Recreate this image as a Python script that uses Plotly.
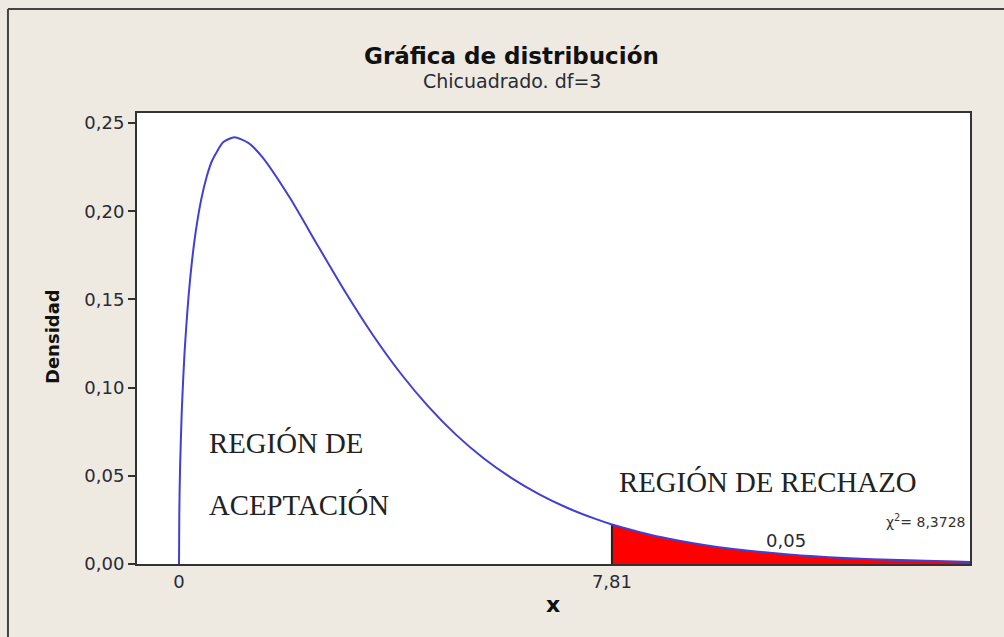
import plotly.graph_objects as go

# Values (chi-square density, df=3)
x_vals = [0, 0.005, 0.01, 0.02, 0.05, 0.1, 0.2, 0.3, 0.4, 0.5, 0.6, 0.8, 1.0, 1.25, 1.5,
          2.0, 2.5, 3.0, 3.5, 4.0, 4.5, 5.0, 5.5, 6.0, 6.5, 7.0, 7.5, 7.81, 8.0,
          8.5, 9.0, 9.5, 10, 11, 12, 13, 14, 14.27]
y_vals = [0, 0.0281, 0.0397, 0.0559, 0.0870, 0.1200, 0.1614, 0.1881, 0.2066, 0.2197, 0.2289,
          0.2392, 0.2420, 0.2388, 0.2308, 0.2076, 0.1807, 0.1542, 0.1297, 0.1080,
          0.0892, 0.0732, 0.0598, 0.0487, 0.0395, 0.0319, 0.0257, 0.0224, 0.0207,
          0.0166, 0.0133, 0.0106, 0.0085, 0.0054, 0.0034, 0.0022, 0.0014, 0.0012]
critical = 7.81
y_ticks = [0.00, 0.05, 0.10, 0.15, 0.20, 0.25]
y_ticklabels = ["0,00", "0,05", "0,10", "0,15", "0,20", "0,25"]
x_ticks = [0, 7.81]
x_ticklabels = ["0", "7,81"]

BG = "#EEEAE1"
AX = "#333333"
TXT = "#2A2A35"
tail_x = [x for x in x_vals if x >= critical]
tail_y = [y for x, y in zip(x_vals, y_vals) if x >= critical]

fig = go.Figure()
fig.add_trace(go.Scatter(x=tail_x, y=tail_y, mode="lines", fill="tozeroy",
                         fillcolor="#FF0000", line=dict(color="#FF0000", width=0),
                         hoverinfo="skip", showlegend=False))
fig.add_trace(go.Scatter(x=[critical, critical], y=[0, tail_y[0]], mode="lines",
                         line=dict(color="#222222", width=2), showlegend=False))
fig.add_trace(go.Scatter(x=x_vals, y=y_vals, mode="lines",
                         line=dict(color="#4040D4", width=2, shape="spline", smoothing=0.6),
                         showlegend=False))

serif = "Liberation Serif"
sans = "DejaVu Sans"
fig.add_annotation(x=0.505, y=0.0686, text="REGIÓN DE", showarrow=False, xanchor="left",
                   yanchor="middle", font=dict(family=serif, size=28.8, color="#222"))
fig.add_annotation(x=0.505, y=0.0335, text="ACEPTACIÓN", showarrow=False, xanchor="left",
                   yanchor="middle", font=dict(family=serif, size=28.8, color="#222"))
fig.add_annotation(x=7.90, y=0.0465, text="REGIÓN DE RECHAZO", showarrow=False, xanchor="left",
                   yanchor="middle", font=dict(family=serif, size=28.8, color="#222"))
fig.add_annotation(x=10.95, y=0.0136, text="0,05", showarrow=False, yanchor="middle",
                   font=dict(family=sans, size=18, color=TXT))
fig.add_annotation(x=14.23, y=0.0244, text="χ<sup>2</sup>= 8,3728", showarrow=False,
                   xanchor="right", yanchor="middle", font=dict(family=sans, size=14, color="#333"))

# titles (placed in paper coordinates)
fig.add_annotation(xref="paper", yref="paper", x=0.450, y=1.1264, text="<b>Gráfica de distribución</b>",
                   showarrow=False, yanchor="middle", font=dict(family=sans, size=23, color="#111"))
fig.add_annotation(xref="paper", yref="paper", x=0.450, y=1.071, text="Chicuadrado. df=3",
                   showarrow=False, yanchor="middle", font=dict(family=sans, size=19, color=TXT))
fig.add_annotation(xref="paper", yref="paper", x=0.4994, y=-0.0909, text="<b>x</b>",
                   showarrow=False, yanchor="middle", font=dict(family=sans, size=22, color="#111"))
fig.add_annotation(xref="paper", yref="paper", x=-0.102, y=0.5033, text="<b>Densidad</b>",
                   textangle=-90, showarrow=False, xanchor="center", yanchor="middle",
                   font=dict(family=sans, size=18, color="#111"))

fig.update_layout(
    width=1004, height=637,
    margin=dict(l=137, r=34, t=113, b=73),
    paper_bgcolor=BG, plot_bgcolor="white",
    xaxis=dict(range=[-0.758, 14.27], tickvals=x_ticks, ticktext=x_ticklabels,
               showgrid=False, zeroline=False, showline=True, linecolor=AX, linewidth=2,
               mirror=True, ticks="",
               tickfont=dict(family=sans, size=18, color=TXT)),
    yaxis=dict(range=[0, 0.2557], tickvals=y_ticks, ticktext=y_ticklabels,
               showgrid=False, zeroline=False, showline=True, linecolor=AX, linewidth=2,
               mirror=True, ticks="outside", ticklen=7, tickcolor=AX, tickwidth=2,
               tickfont=dict(family=sans, size=18, color=TXT)),
)

# outer frame (top and left edges visible)
fig.add_shape(type="line", xref="paper", yref="paper", x0=-0.1549, x1=1.1, y0=1.2306, y1=1.2306,
              line=dict(color="#444", width=2))
fig.add_shape(type="line", xref="paper", yref="paper", x0=-0.1549, x1=-0.1549, y0=-0.2, y1=1.2306,
              line=dict(color="#444", width=2))

fig.write_html("out.html", config={"displayModeBar": False},
               post_script="document.body.style.margin='0px';")
